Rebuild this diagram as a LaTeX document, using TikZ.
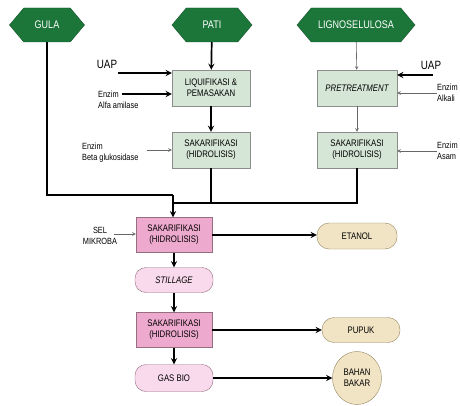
\documentclass[tikz,border=0pt]{standalone}
\usepackage{fontspec}
\setmainfont{Liberation Sans}[FakeStretch=0.82]
\usetikzlibrary{arrows.meta, positioning, shapes.symbols, shapes.geometric}
\definecolor{hexGreen}{RGB}{28,118,58}
\definecolor{boxGreen}{RGB}{214,230,214}
\definecolor{edgeGray}{gray}{0.55}
\definecolor{pinkDeep}{RGB}{238,170,206}
\definecolor{pinkSoft}{RGB}{248,218,236}
\definecolor{pinkEdge}{RGB}{150,110,130}
\definecolor{tanFill}{RGB}{240,228,196}
\definecolor{tanEdge}{RGB}{150,135,100}
\definecolor{lineGray}{gray}{0.4}

\begin{document}
\begin{tikzpicture}[x=1pt, y=-1pt, >=stealth,
    hexa/.style={signal, signal to=west and east, signal pointer angle=100, fill=hexGreen,
        draw=hexGreen!70!black, text=white, font=\fontsize{11}{12}\selectfont, minimum height=34pt, inner sep=1pt},
    greenbox/.style={rectangle, draw=edgeGray, fill=boxGreen, align=center,
        font=\fontsize{9.5}{11}\selectfont, minimum width=78pt, minimum height=36pt, inner sep=1pt},
    pinkbox/.style={rectangle, draw=pinkEdge, fill=pinkDeep, align=center,
        font=\fontsize{9.5}{11}\selectfont, minimum width=76pt, minimum height=35pt, inner sep=1pt},
    pinkround/.style={rectangle, rounded corners=11pt, draw=pinkEdge, fill=pinkSoft,
        font=\fontsize{9.5}{11}\selectfont, minimum width=78pt, minimum height=25pt},
    tanround/.style={rectangle, rounded corners=12pt, draw=tanEdge, fill=tanFill,
        font=\fontsize{9.5}{11}\selectfont, minimum width=80pt, minimum height=26pt},
    label/.style={align=left, font=\fontsize{9}{11}\selectfont, inner sep=0pt},
    bigarrow/.style={->, line width=1.7pt},
    thinarrow/.style={->, lineGray, line width=0.6pt},
]
    \clip (0,0) rectangle (460,406);
    \fill[white] (0,0) rectangle (460,406);

    % sources
    \node[hexa, minimum width=75pt] (gula) at (47,25) {GULA};
    \node[hexa, minimum width=80pt] (pati) at (212,25) {PATI};
    \node[hexa, minimum width=118pt] (ligno) at (356,25) {LIGNOSELULOSA};

    % pretreatment
    \node[greenbox] (liquif) at (211,88) {LIQUIFIKASI \&\\PEMASAKAN};
    \node[greenbox, minimum width=80pt] (pretreat) at (357,88) {\itshape PRETREATMENT};
    \node[greenbox] (sakarA) at (211,150) {SAKARIFIKASI\\(HIDROLISIS)};
    \node[greenbox, minimum width=80pt] (sakarB) at (357,150) {SAKARIFIKASI\\(HIDROLISIS)};

    % fermentation
    \node[pinkbox] (fermA) at (174,235) {SAKARIFIKASI\\(HIDROLISIS)};
    \node[pinkround] (stillage) at (174,280) {\itshape STILLAGE};
    \node[pinkbox] (fermB) at (174,330) {SAKARIFIKASI\\(HIDROLISIS)};
    \node[pinkround, minimum height=27pt] (gasbio) at (174,378) {GAS BIO};

    % products
    \node[tanround] (etanol) at (357,236) {ETANOL};
    \node[tanround, minimum width=78pt, minimum height=25pt] (pupuk) at (361,330) {PUPUK};
    \node[ellipse, draw=tanEdge, fill=tanFill, align=center, inner sep=0pt, font=\fontsize{9.5}{11}\selectfont,
        minimum width=49pt, minimum height=53pt] (bahan) at (357,378) {BAHAN\\BAKAR};

    % inputs
    \node[font=\fontsize{12}{13}\selectfont, inner sep=0pt] (uapL) at (107,64) {UAP};
    \node[label, anchor=west] (alfa) at (98,100) {Enzim\\Alfa amilase};
    \node[label, anchor=west] (beta) at (82,153) {Enzim\\Beta glukosidase};
    \node[font=\fontsize{12}{13}\selectfont, inner sep=0pt] (uapR) at (431,65) {UAP};
    \node[label, anchor=west] (alkali) at (437,93) {Enzim\\Alkali};
    \node[label, anchor=west] (asam) at (437,151) {Enzim\\Asam};
    \node[align=center, font=\fontsize{9}{10.5}\selectfont, inner sep=0pt] (sel) at (100,236) {SEL\\MIKROBA};

    \coordinate (uapLend) at (118,73);
    \coordinate (alfaEnd) at (122,94);
    \coordinate (betaEnd) at (147,150);
    \coordinate (uapRend) at (433,75);
    \coordinate (selEnd) at (114,234);
    \coordinate (joinA) at (173,195);
    \coordinate (joinB) at (173,203);

    \draw[bigarrow] (uapLend) -- (uapLend -| liquif.west);
    \draw[bigarrow] (alfaEnd) -- (alfaEnd -| liquif.west);
    \draw[thinarrow] (betaEnd) -- (betaEnd -| sakarA.west);
    \draw[bigarrow] (uapRend) -- (uapRend -| pretreat.east);
    \draw[thinarrow] (alkali.west) -- (alkali.west -| pretreat.east);
    \draw[thinarrow] (asam.west) -- (asam.west -| sakarB.east);
    \draw[thinarrow] (selEnd) -- (selEnd -| fermA.west);

    % main flow
    \draw[bigarrow] (pati) -- (liquif);
    \draw[bigarrow] (liquif) -- (sakarA);
    \draw[thinarrow] (ligno) -- (pretreat);
    \draw[thinarrow] (pretreat) -- (sakarB);
    \draw[line width=1.7pt] (gula.south) |- (joinA);
    \draw[line width=1.7pt] (sakarA.south) -- (sakarA.south |- joinB);
    \draw[line width=1.7pt] (sakarB.south) |- (joinB);
    \draw[bigarrow] (joinA) -- (joinA |- fermA.north);
    \draw[bigarrow] (fermA) -- (stillage);
    \draw[bigarrow] (stillage) -- (fermB);
    \draw[bigarrow] (fermB) -- (gasbio);
    \draw[bigarrow] (fermA.east) -- (etanol.west |- fermA.east);
    \draw[bigarrow] (fermB.east) -- (pupuk.west |- fermB.east);
    \draw[bigarrow] (gasbio) -- (bahan);
\end{tikzpicture}
\end{document}
